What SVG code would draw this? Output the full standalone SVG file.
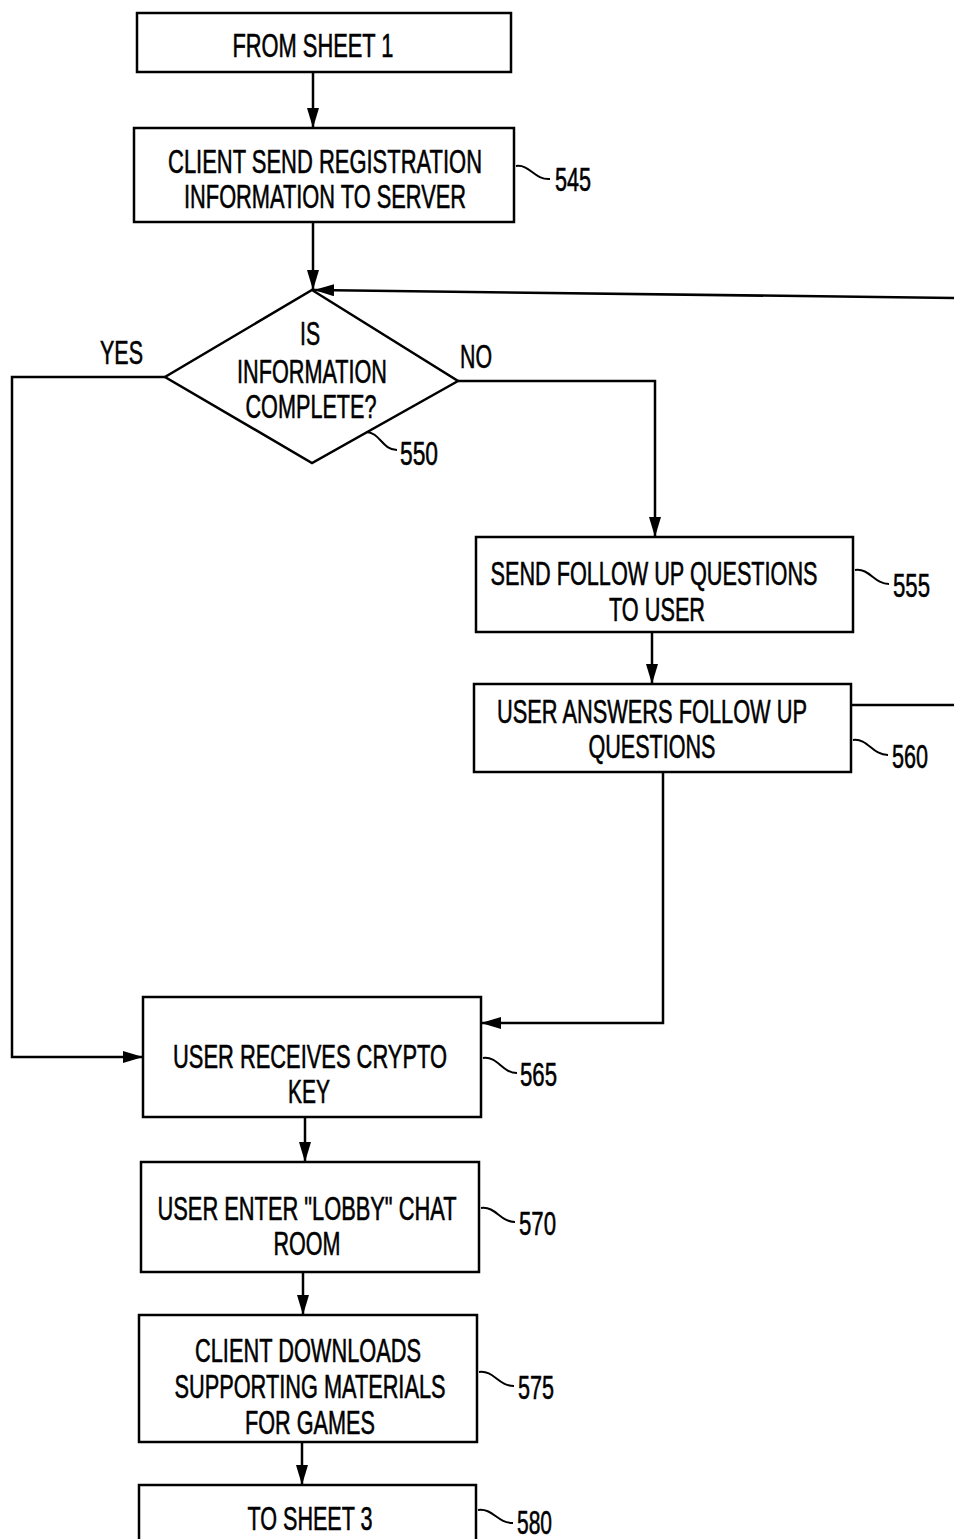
<svg xmlns="http://www.w3.org/2000/svg" width="954" height="1539" viewBox="0 0 954 1539">
<defs>
<style>
.b{fill:#fff;stroke:#000;stroke-width:2.5}
.c{fill:none;stroke:#000;stroke-width:2.5}
.l{fill:none;stroke:#000;stroke-width:2}
text{font-family:"Liberation Sans",Arial,sans-serif;font-size:34px;fill:#000;stroke:#000;stroke-width:0.6}
.m{text-anchor:middle}
</style>
<marker id="a" viewBox="0 0 20 12" refX="20" refY="6" markerWidth="20" markerHeight="12" markerUnits="userSpaceOnUse" orient="auto"><path d="M0,0 L20,6 L0,12 Z" fill="#000"/></marker>
</defs>
<g id="connectors">
<path class="c" d="M313,72 V128" marker-end="url(#a)"/>
<path class="c" d="M313,222 V290" marker-end="url(#a)"/>
<path class="c" d="M954,298 L314,290" marker-end="url(#a)"/>
<path class="c" d="M165,377 H12 V1057 H143" marker-end="url(#a)"/>
<path class="c" d="M458,381 H655 V537" marker-end="url(#a)"/>
<path class="c" d="M652,632 V684" marker-end="url(#a)"/>
<path class="c" d="M851,705 H954"/>
<path class="c" d="M663,772 V1023 H481" marker-end="url(#a)"/>
<path class="c" d="M305,1117 V1162" marker-end="url(#a)"/>
<path class="c" d="M303,1272 V1315" marker-end="url(#a)"/>
<path class="c" d="M302,1442 V1485" marker-end="url(#a)"/>
</g>
<g id="n_from">
<rect class="b" x="137" y="13" width="374" height="59"/>
<text class="m" transform="translate(313,57) scale(0.64,1)" textLength="251.6" lengthAdjust="spacingAndGlyphs">FROM SHEET 1</text>
</g>
<g id="n545">
<rect class="b" x="134" y="128" width="380" height="94"/>
<text class="m" transform="translate(325,173) scale(0.64,1)" textLength="490.6" lengthAdjust="spacingAndGlyphs">CLIENT SEND REGISTRATION</text>
<text class="m" transform="translate(325,208) scale(0.64,1)" textLength="440.6" lengthAdjust="spacingAndGlyphs">INFORMATION TO SERVER</text>
<path class="l" d="M516,166 C530,164 534,180 550,179"/>
<text transform="translate(555,191) scale(0.64,1)" textLength="56.3" lengthAdjust="spacingAndGlyphs">545</text>
</g>
<g id="n550">
<path class="b" d="M312,290 L458,381 L312,463 L165,377 Z"/>
<text class="m" transform="translate(310,345) scale(0.64,1)" textLength="31.3" lengthAdjust="spacingAndGlyphs">IS</text>
<text class="m" transform="translate(312,383) scale(0.64,1)" textLength="234.4" lengthAdjust="spacingAndGlyphs">INFORMATION</text>
<text class="m" transform="translate(311,418) scale(0.64,1)" textLength="204.7" lengthAdjust="spacingAndGlyphs">COMPLETE?</text>
<path class="l" d="M366,432 C380,432 382,450 397,450"/>
<text transform="translate(400,465) scale(0.64,1)" textLength="59.4" lengthAdjust="spacingAndGlyphs">550</text>
<text transform="translate(100,364) scale(0.64,1)" textLength="67.2" lengthAdjust="spacingAndGlyphs">YES</text>
<text transform="translate(460,368) scale(0.64,1)" textLength="50" lengthAdjust="spacingAndGlyphs">NO</text>
</g>
<g id="n555">
<rect class="b" x="476" y="537" width="377" height="95"/>
<text class="m" transform="translate(654,585) scale(0.64,1)" textLength="511" lengthAdjust="spacingAndGlyphs">SEND FOLLOW UP QUESTIONS</text>
<text class="m" transform="translate(657,621) scale(0.64,1)" textLength="150" lengthAdjust="spacingAndGlyphs">TO USER</text>
<path class="l" d="M855,570 C870,568 874,584 889,584"/>
<text transform="translate(893,597) scale(0.64,1)" textLength="57.8" lengthAdjust="spacingAndGlyphs">555</text>
</g>
<g id="n560">
<rect class="b" x="474" y="684" width="377" height="88"/>
<text class="m" transform="translate(652,723) scale(0.64,1)" textLength="484.4" lengthAdjust="spacingAndGlyphs">USER ANSWERS FOLLOW UP</text>
<text class="m" transform="translate(652,758) scale(0.64,1)" textLength="198.4" lengthAdjust="spacingAndGlyphs">QUESTIONS</text>
<path class="l" d="M853,740 C868,738 872,755 888,755"/>
<text transform="translate(892,768) scale(0.64,1)" textLength="56.3" lengthAdjust="spacingAndGlyphs">560</text>
</g>
<g id="n565">
<rect class="b" x="143" y="997" width="338" height="120"/>
<text class="m" transform="translate(310,1068) scale(0.64,1)" textLength="428.1" lengthAdjust="spacingAndGlyphs">USER RECEIVES CRYPTO</text>
<text class="m" transform="translate(309,1103) scale(0.64,1)" textLength="65.6" lengthAdjust="spacingAndGlyphs">KEY</text>
<path class="l" d="M483,1058 C498,1056 502,1073 517,1073"/>
<text transform="translate(520,1086) scale(0.64,1)" textLength="57.8" lengthAdjust="spacingAndGlyphs">565</text>
</g>
<g id="n570">
<rect class="b" x="141" y="1162" width="338" height="110"/>
<text class="m" transform="translate(307,1220) scale(0.64,1)" textLength="467.2" lengthAdjust="spacingAndGlyphs">USER ENTER "LOBBY" CHAT</text>
<text class="m" transform="translate(307,1255) scale(0.64,1)" textLength="104.7" lengthAdjust="spacingAndGlyphs">ROOM</text>
<path class="l" d="M481,1208 C496,1206 500,1222 515,1222"/>
<text transform="translate(519,1235) scale(0.64,1)" textLength="57.8" lengthAdjust="spacingAndGlyphs">570</text>
</g>
<g id="n575">
<rect class="b" x="139" y="1315" width="338" height="127"/>
<text class="m" transform="translate(308,1362) scale(0.64,1)" textLength="353.1" lengthAdjust="spacingAndGlyphs">CLIENT DOWNLOADS</text>
<text class="m" transform="translate(310,1398) scale(0.64,1)" textLength="423.4" lengthAdjust="spacingAndGlyphs">SUPPORTING MATERIALS</text>
<text class="m" transform="translate(310,1434) scale(0.64,1)" textLength="203.1" lengthAdjust="spacingAndGlyphs">FOR GAMES</text>
<path class="l" d="M479,1372 C494,1370 498,1386 514,1386"/>
<text transform="translate(518,1399) scale(0.64,1)" textLength="56.3" lengthAdjust="spacingAndGlyphs">575</text>
</g>
<g id="n580">
<rect class="b" x="139" y="1485" width="337" height="70"/>
<text class="m" transform="translate(310,1530) scale(0.64,1)" textLength="195.3" lengthAdjust="spacingAndGlyphs">TO SHEET 3</text>
<path class="l" d="M478,1510 C493,1508 497,1523 513,1523"/>
<text transform="translate(517,1534) scale(0.64,1)" textLength="54.7" lengthAdjust="spacingAndGlyphs">580</text>
</g>
</svg>
